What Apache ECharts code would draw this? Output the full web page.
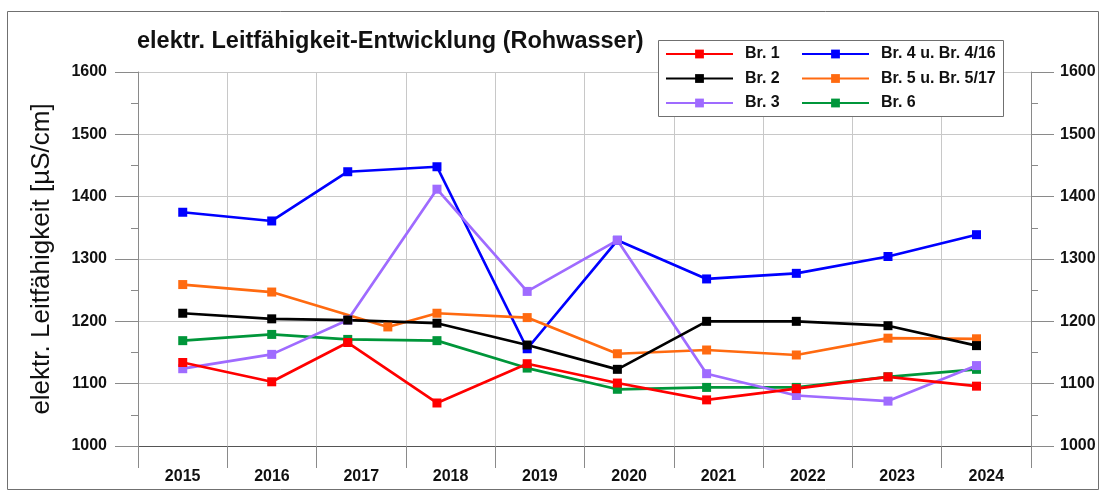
<!DOCTYPE html>
<html lang="de">
<head>
    <meta charset="UTF-8">
    <script src="https://cdn.jsdelivr.net/npm/echarts@6/dist/echarts.min.js"></script>
    <title>elektr. Leitfähigkeit</title>
    <style>
        html, body { margin: 0; padding: 0; background: #fff; }
    </style>
</head>
<body>
<div id="chart" style="width:1106px;height:494px;"></div>
<script>
    // Jahre (Achsenbeschriftung)
    var years = ['2015', '2016', '2017', '2018', '2019', '2020', '2021', '2022', '2023', '2024'];
    // Probenahmedaten
    var sampleDates = ['2015-07-03', '2016-07-01', '2017-05-08', '2018-05-08', '2019-05-12',
                       '2020-05-15', '2021-05-15', '2022-05-17', '2023-05-27', '2024-05-23'];
    // Br. 5 wurde 2017 erst im Herbst beprobt
    var sampleDatesBr5 = ['2015-07-03', '2016-07-01', '2017-10-19', '2018-05-08', '2019-05-12',
                          '2020-05-15', '2021-05-15', '2022-05-17', '2023-05-27', '2024-05-23'];

    // Messwerte µS/cm
    var br1 = [1134, 1103, 1166, 1069, 1132, 1101, 1074, 1092, 1111, 1096];
    var br2 = [1213, 1204, 1202, 1197, 1162, 1123, 1200, 1200, 1193, 1161];
    var br3 = [1124, 1147, 1202, 1412, 1248, 1330, 1116, 1081, 1072, 1129];
    var br4 = [1375, 1361, 1440, 1448, 1156, 1330, 1268, 1277, 1304, 1339];
    var br5 = [1259, 1247, 1191, 1213, 1206, 1148, 1154, 1146, 1173, 1172];
    var br6 = [1169, 1179, 1171, 1169, 1125, 1091, 1094, 1094, 1111, 1123];

    var font = '"Liberation Sans", Arial, sans-serif';
    var gridColor = '#c8c8c8';
    var axisColor = '#8a8a8a';

    function pairs(dates, values) {
        var res = [];
        for (var i = 0; i < values.length; i++) {
            res.push([dates[i], values[i]]);
        }
        return res;
    }

    function lineSeries(name, color, dates, values) {
        return {
            name: name,
            type: 'line',
            xAxisIndex: 1,
            yAxisIndex: 0,
            symbol: 'rect',
            symbolSize: 9,
            showAllSymbol: true,
            animation: false,
            lineStyle: { color: color, width: 2.7 },
            itemStyle: { color: color },
            data: pairs(dates, values)
        };
    }

    var boldText = { color: '#111', fontFamily: font, fontWeight: 'bold', fontSize: 16 };

    var yAxisBase = {
        type: 'value',
        min: 1000,
        max: 1600,
        interval: 100,
        axisLine: { show: true, lineStyle: { color: axisColor, width: 1 } },
        axisTick: { show: true, length: 23, lineStyle: { color: axisColor } },
        minorTick: { show: true, splitNumber: 2, length: 7, lineStyle: { color: axisColor } },
        axisLabel: Object.assign({ formatter: function (v) { return String(v); } }, boldText)
    };

    var legendBase = {
        orient: 'vertical',
        top: 46,
        padding: 0,
        itemWidth: 67,
        itemHeight: 11,
        itemGap: 8.5,
        z: 5,
        textStyle: Object.assign({ padding: [0, 0, 0, 7] }, boldText)
    };

    var chart = echarts.init(document.getElementById('chart'));
    var option = {
        backgroundColor: '#fff',
        animation: false,
        title: {
            text: 'elektr. Leitfähigkeit-Entwicklung (Rohwasser)',
            left: 137,
            top: 30,
            padding: 0,
            textStyle: { color: '#111', fontFamily: font, fontWeight: 'bold', fontSize: 23.5 }
        },
        graphic: [
            { // Rahmen
                type: 'rect',
                z: 0,
                shape: { x: 7.5, y: 11.5, width: 1091, height: 478 },
                style: { fill: 'none', stroke: '#707070', lineWidth: 1 }
            },
            { // Legendenkasten
                type: 'rect',
                z: 3,
                shape: { x: 658.5, y: 40.5, width: 345, height: 76 },
                style: { fill: '#fff', stroke: '#707070', lineWidth: 1 }
            }
        ],
        legend: [
            Object.assign({}, legendBase, { left: 665, data: ['Br. 1', 'Br. 2', 'Br. 3'] }),
            Object.assign({}, legendBase, { left: 801, data: ['Br. 4 u. Br. 4/16', 'Br. 5 u. Br. 5/17', 'Br. 6'] })
        ],
        grid: { left: 138, right: 75, top: 72, bottom: 48, containLabel: false },
        xAxis: [{
            type: 'category',
            data: years,
            boundaryGap: true,
            axisLine: { show: true, lineStyle: { color: '#555', width: 1 } },
            axisTick: { show: true, length: 22, interval: 0, lineStyle: { color: axisColor } },
            axisLabel: Object.assign({ interval: 0, margin: 23 }, boldText),
            splitLine: { show: true, interval: 0, lineStyle: { color: gridColor, width: 1 } }
        }, {
            type: 'time',
            show: false,
            min: '2015-01-01',
            max: '2025-01-01'
        }],
        yAxis: [
            Object.assign({}, yAxisBase, {
                position: 'left',
                name: 'elektr. Leitfähigkeit [µS/cm]',
                nameLocation: 'middle',
                nameRotate: 90,
                nameGap: 83,
                nameTextStyle: { color: '#111', fontFamily: font, fontSize: 26 },
                axisLabel: Object.assign({}, yAxisBase.axisLabel, { margin: 31 }),
                splitLine: { show: true, lineStyle: { color: gridColor, width: 1 } }
            }),
            Object.assign({}, yAxisBase, {
                position: 'right',
                axisLabel: Object.assign({}, yAxisBase.axisLabel, { margin: 29 }),
                splitLine: { show: false }
            })
        ],
        series: [
            lineSeries('Br. 4 u. Br. 4/16', '#0000ff', sampleDates, br4),
            lineSeries('Br. 5 u. Br. 5/17', '#ff6a10', sampleDatesBr5, br5),
            lineSeries('Br. 6', '#00963a', sampleDates, br6),
            lineSeries('Br. 3', '#9f6bff', sampleDates, br3),
            lineSeries('Br. 1', '#ff0000', sampleDates, br1),
            lineSeries('Br. 2', '#000000', sampleDates, br2)
        ]
    };
    chart.setOption(option);
</script>
</body>
</html>
